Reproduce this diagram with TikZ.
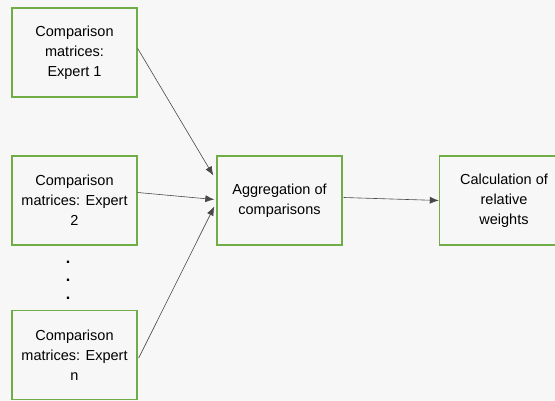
\documentclass[tikz,border=0pt]{standalone}
\usepackage{fontspec}
\setmainfont{Liberation Sans}
\usetikzlibrary{arrows.meta,calc}
\definecolor{boxgreen}{HTML}{70AD47}
\definecolor{bg}{HTML}{F7F7F7}
\definecolor{arrowgray}{HTML}{484848}
\tikzset{
  stepbox/.style={draw=boxgreen, line width=1.4pt, fill=bg, minimum width=125pt, minimum height=89pt,
    align=center, inner sep=0pt, font=\fontsize{14.5pt}{20pt}\selectfont, text=black},
  conn/.style={draw=arrowgray, line width=0.6pt, -{Latex[length=9pt,width=7pt]}},
  dotmark/.style={font=\fontsize{16pt}{20pt}\selectfont\bfseries, inner sep=0pt}
}
\begin{document}
\begin{tikzpicture}[x=1pt,y=-1pt]
\fill[bg] (0,0) rectangle (555,401);
\useasboundingbox (0,0) rectangle (555,401);
\node[stepbox] (b1) at (74.5,52.5) {Comparison\\matrices:\\Expert 1};
\node[stepbox] (b2) at (74.5,200.5) {Comparison\\matrices: Expert\\2};
\node[stepbox] (bn) at (74.5,355) {Comparison\\matrices: Expert\\n};
\node[stepbox] (agg) at (279.5,200.5) {Aggregation of\\comparisons};
\node[stepbox] (calc) at (502,200.5) {\hspace*{4pt}Calculation of\\\hspace*{4pt}relative\\\hspace*{4pt}weights};
\node[dotmark] (d1) at (68,262) {.};
\node[dotmark] (d2) at (68,280) {.};
\node[dotmark] (d3) at (68,298) {.};
\draw[conn] ($(b1.east)+(0,-4)$) -- ($(agg.west)+(-3,-25)$);
\draw[conn] ($(b2.east)+(0,-8)$) -- ($(agg.west)+(-2,-1)$);
\draw[conn] ($(bn.east)+(1,3)$) -- ($(agg.west)+(-2,6)$);
\draw[conn] ($(agg.east)+(1,-3)$) -- (calc.west);
\end{tikzpicture}
\end{document}
